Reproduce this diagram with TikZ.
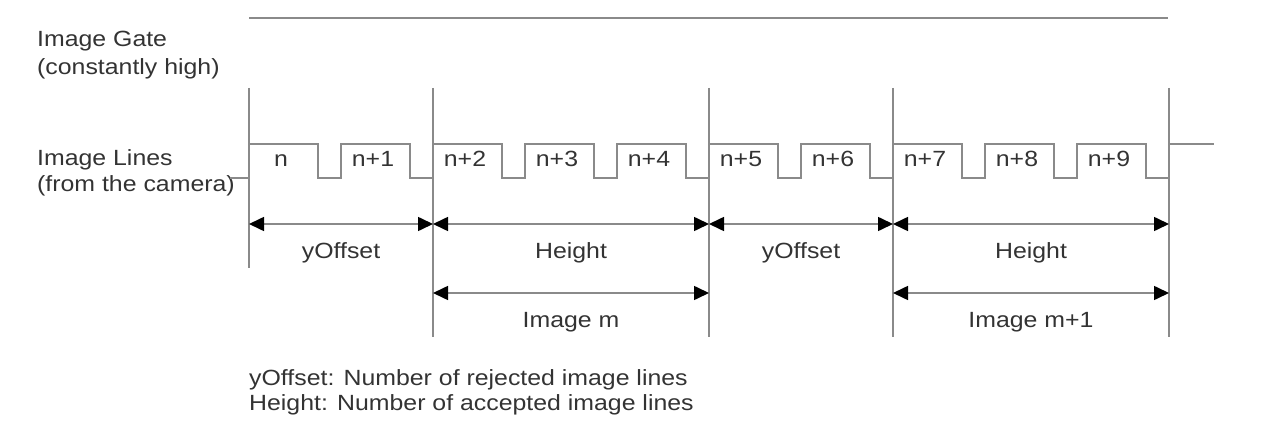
\documentclass[tikz,border=0pt]{standalone}
\usepackage{fontspec}
\setmainfont{Liberation Sans}[FakeStretch=1.13]
\usepackage{xcolor}
\definecolor{tdLine}{HTML}{8A8A8A}
\definecolor{tdText}{HTML}{333333}
\usetikzlibrary{arrows.meta}

\begin{document}
\begin{tikzpicture}[x=1pt,y=-1pt,
      every node/.style={font=\fontsize{22}{27}\selectfont,text=tdText,inner sep=0pt},
      sig/.style={anchor=base west},
      wave/.style={draw=tdLine,line width=1.6pt},
      marker/.style={draw=tdLine,line width=1.6pt},
      dimline/.style={<->,>={Triangle[length=15pt,width=14pt,color=black]},
                      draw=tdLine,line width=1.6pt},
      dimlbl/.style={midway,anchor=base,yshift=-34pt},
    ]
    \useasboundingbox (0,0) rectangle (1280,425);

    % --- Signal names ---
    \node[sig] (gateA) at (37,47) {Image Gate};
    \node[sig] (gateB) at (37,75) {(constantly high)};
    \node[sig] (linesA) at (37,165) {Image Lines};
    \node[sig] (linesB) at (37,192) {(from the camera)};

    % --- Section markers ---
    \foreach \i/\x/\y in {0/249/268,1/433/337,2/709/337,3/893/337,4/1169/337}{
      \coordinate (top\i) at (\x,88);
      \coordinate (end\i) at (\x,\y);
      \coordinate (arr\i) at (\x,224);
      \coordinate (low\i) at (\x,293);
    }
    \foreach \i in {0,...,4}
      \draw[marker] (top\i) -- (end\i);

    % --- Image gate, constantly high ---
    \coordinate (gateL) at (249,18);
    \coordinate (gateR) at (1168,18);
    \draw[wave] (gateL) -- (gateR);

    % --- Image lines from the camera ---
    \coordinate (waveL) at (230,178);
    \draw[wave] (waveL) -- (249,178)
      \foreach \k in {0,...,9}{ -- ++(0,-34) -- ++(69,0) -- ++(0,34) -- ++(23,0) }
      -- ++(0,-34) -- ++(45,0);
    \foreach \k in {0,...,9}{
      \pgfmathsetmacro{\xc}{249+92*\k+32}
      \ifnum\k=0
        \node[anchor=base] (line\k) at (\xc,167) {n};
      \else
        \node[anchor=base] (line\k) at (\xc,167) {n+\k};
      \fi
    }

    % --- Dimensions ---
    \draw[dimline] (arr0) -- (arr1) node[dimlbl] (offA) {yOffset};
    \draw[dimline] (arr1) -- (arr2) node[dimlbl] (hgtA) {Height};
    \draw[dimline] (arr2) -- (arr3) node[dimlbl] (offB) {yOffset};
    \draw[dimline] (arr3) -- (arr4) node[dimlbl] (hgtB) {Height};
    \draw[dimline] (low1) -- (low2) node[dimlbl] (imgA) {Image m};
    \draw[dimline] (low3) -- (low4) node[dimlbl] (imgB) {Image m+1};

    % --- Legend ---
    \node[sig] (noteA) at (249,385) {yOffset: Number of rejected image lines};
    \node[sig] (noteB) at (249,410) {Height: Number of accepted image lines};

  \end{tikzpicture}
\end{document}
